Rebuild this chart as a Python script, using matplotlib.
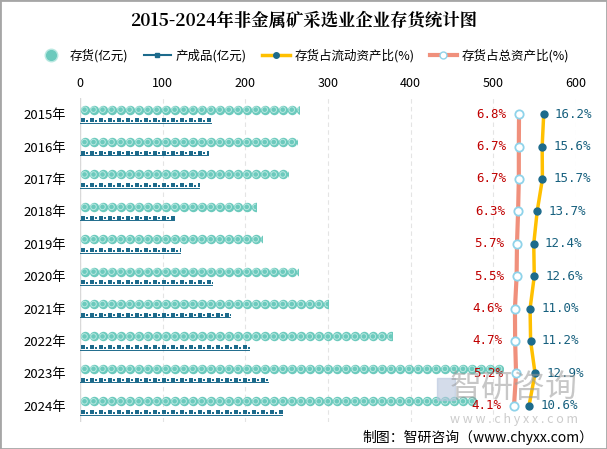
import numpy as np
import matplotlib
matplotlib.use("Agg")
from matplotlib import pyplot as plt
from matplotlib.lines import Line2D
from matplotlib.patches import Rectangle

plt.rcParams['font.family'] = ['Noto Sans CJK SC', 'DejaVu Sans']

# 数据
years = ['2015年', '2016年', '2017年', '2018年', '2019年',
         '2020年', '2021年', '2022年', '2023年', '2024年']
stock = [265, 263, 252, 213, 220, 264, 300, 377, 512, 479]          # 存货(亿元)
product = [158, 155, 144, 114, 121, 160, 181, 204, 228, 244]        # 产成品(亿元)
ratio_current = [16.2, 15.6, 15.7, 13.7, 12.4, 12.6, 11.0, 11.2, 12.9, 10.6]  # 存货占流动资产比
ratio_total = [6.8, 6.7, 6.7, 6.3, 5.7, 5.5, 4.6, 4.7, 5.2, 4.1]              # 存货占总资产比

c_coin = '#6ccabd'
c_coin_in = '#b9e8e1'
c_prod = '#1d6b8c'
c_yellow = '#ffc000'
c_salmon = '#f0907c'
c_ring = '#8fd3ea'

fig = plt.figure(figsize=(6.07, 4.49), dpi=100)
ax = fig.add_axes([80 / 607, 1 - 422 / 449, 496 / 607, 324 / 449])

y = np.arange(len(years))
ax.set_xlim(0, 600)
ax.set_ylim(len(years) - 0.5, -0.5)

# 存货 —— 硬币图案
step = 10.9
for i, v in enumerate(stock):
    yy = i - 0.14
    clip = Rectangle((0, yy - 0.25), v, 0.5, transform=ax.transData)
    xs = np.arange(step / 2, v + step / 2, step)
    s1 = ax.scatter(xs, [yy] * len(xs), s=46, color=c_coin, linewidths=0, zorder=3)
    s2 = ax.scatter(xs, [yy] * len(xs), s=16, facecolor='none', edgecolor=c_coin_in,
                    linewidths=0.7, zorder=4)
    s1.set_clip_path(clip)
    s2.set_clip_path(clip)

# 产成品 —— 小图标
step2 = 10.9
for i, v in enumerate(product):
    yy = i + 0.19
    clip = Rectangle((0, yy - 0.2), v, 0.4, transform=ax.transData)
    xs = np.arange(step2 * 0.3, v + step2, step2)
    a = ax.scatter(xs, [yy] * len(xs), s=6, marker='s', color=c_prod, linewidths=0, zorder=3)
    b = ax.scatter(xs + step2 * 0.45, [yy + 0.02] * len(xs), s=4, marker='s', color=c_prod,
                   linewidths=0, zorder=3)
    ln, = ax.plot([0, v], [yy + 0.08, yy + 0.08], color=c_prod, lw=0.7, zorder=3)
    a.set_clip_path(clip)
    b.set_clip_path(clip)

ax.set_xticks(np.arange(0, 601, 100))
ax.set_yticks(y)
ax.set_yticklabels(years, fontsize=9.5)
ax.tick_params(axis='y', length=0, pad=10)
for s in ax.spines.values():
    s.set_visible(False)
ax.grid(axis='x', color='#e4e4e4', linestyle=(0, (4, 3)), lw=0.8)
ax.axvline(0, color='#d9d9d9', lw=1, zorder=1)
ax.set_axisbelow(True)

# 存货占总资产比
ax_t = ax.twiny()
ax_t.set_xlim(-230.5, 37.6)
ax_t.plot(ratio_total, y, color=c_salmon, lw=3, zorder=5, marker='o', ms=6,
          mfc='white', mec=c_ring, mew=1.3)
for i, v in enumerate(ratio_total):
    ax_t.annotate(f'{v}%', (v, i), xytext=(-9, 0), textcoords='offset points',
                  ha='right', va='center', fontsize=9, color='#c00000',
                  family=['DejaVu Sans Mono', 'Noto Sans CJK SC'])
ax_t.axis('off')

# 存货占流动资产比
ax_c = ax.twiny()
ax_c.set_xlim(-160.5, 28.5)
ax_c.plot(ratio_current, y, color=c_yellow, lw=2.5, zorder=5, marker='o', ms=5,
          mfc=c_prod, mec=c_prod)
for i, v in enumerate(ratio_current):
    ax_c.annotate(f'{v}%', (v, i), xytext=(8, 0), textcoords='offset points',
                  ha='left', va='center', fontsize=9, color='#17607e',
                  family=['DejaVu Sans Mono', 'Noto Sans CJK SC'])
ax_c.axis('off')

# 顶部坐标（twiny 之后再设置）
ax.xaxis.set_ticks_position('top')
ax.xaxis.set_label_position('top')
ax.tick_params(axis='x', length=0, labelsize=9, pad=6, labeltop=True, labelbottom=False)

# 标题
fig.text(0.5, 1 - 21 / 449, '2015-2024年非金属矿采选业企业存货统计图', ha='center', va='center',
         fontsize=12.5, fontweight='bold', family=['Noto Serif CJK SC', 'Noto Sans CJK SC'])

# 图例
handles = [
    Line2D([], [], marker='o', ls='none', ms=9, color=c_coin, mec=c_coin_in),
    Line2D([], [], marker='s', ls='-', ms=3, color=c_prod, lw=1.5),
    Line2D([], [], marker='o', ls='-', ms=4, color=c_yellow, mfc=c_prod, mec=c_prod, lw=2.5),
    Line2D([], [], marker='o', ls='-', ms=5, color=c_salmon, mfc='white', mec=c_ring, lw=3),
]
labels = ['存货(亿元)', '产成品(亿元)', '存货占流动资产比(%)', '存货占总资产比(%)']
fig.legend(handles, labels, loc='center', bbox_to_anchor=(0.5, 1 - 56 / 449), ncol=4,
           frameon=False, fontsize=9, handlelength=2.2, columnspacing=1.2, handletextpad=0.4)

# 水印
fig.text(578 / 607, 1 - 388 / 449, '智研咨询', ha='right', va='center', fontsize=23,
         color='#9a9a9a', alpha=0.55, zorder=10)
fig.text(578 / 607, 1 - 420 / 449, 'w w w . c h y x x . c o m', ha='right', va='center',
         fontsize=9, color='#aaaaaa', alpha=0.6, zorder=10)
fig.patches.append(Rectangle((437 / 607, 1 - 400 / 449), 18 / 607, 22 / 449,
                             transform=fig.transFigure, color='#b8c6dd', alpha=0.6, zorder=10))

fig.text(593 / 607, 1 - 437 / 449, '制图：智研咨询（www.chyxx.com）', ha='right', va='center',
         fontsize=10)

# 边框
fig.patches.append(Rectangle((0, 0), 1, 1, transform=fig.transFigure, fill=False,
                             edgecolor='#a6a6a6', lw=2, zorder=20))

plt.savefig('out.png', dpi=100)
